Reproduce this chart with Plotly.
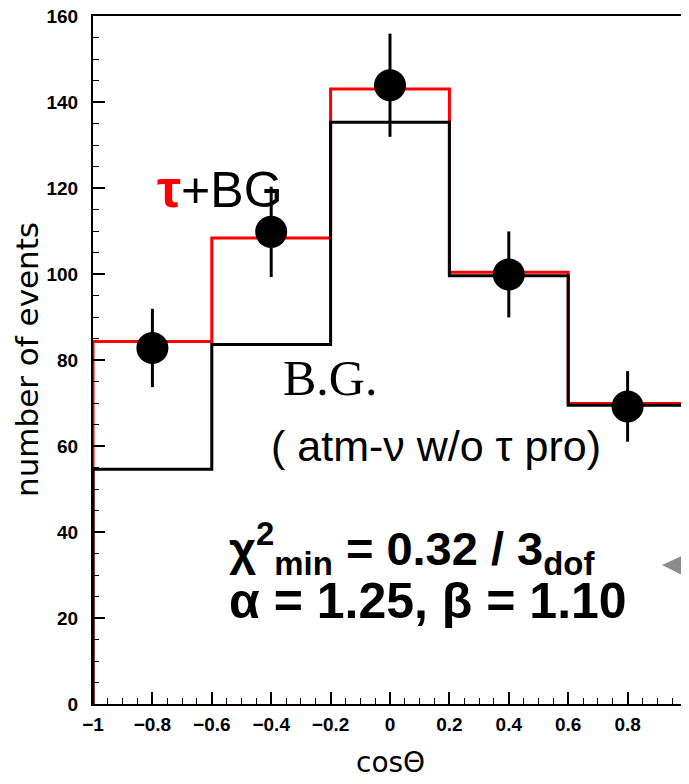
import plotly.graph_objects as go

# ---- data ----
bin_edges = [-1.0, -0.6, -0.2, 0.2, 0.6, 1.0]
tau_bg = [84.3, 108.4, 143.0, 100.4, 69.9]      # red histogram (tau + BG)
bg_only = [54.6, 83.6, 135.3, 99.6, 69.5]       # black histogram (B.G.)
data_x = [-0.8, -0.4, 0.0, 0.4, 0.8]
data_y = [82.8, 109.8, 143.9, 99.9, 69.2]
data_err = [9.1, 10.5, 12.0, 10.0, 8.2]
x_tickvals = [-1, -0.8, -0.6, -0.4, -0.2, 0, 0.2, 0.4, 0.6, 0.8, 1]
x_ticktext = ["\u22121", "\u22120.8", "\u22120.6", "\u22120.4", "\u22120.2", "0", "0.2", "0.4", "0.6", "0.8", "1"]
y_tickvals = [0, 20, 40, 60, 80, 100, 120, 140, 160]


def step_xy(edges, vals):
    xs, ys = [edges[0]], [0]
    for i, v in enumerate(vals):
        xs += [edges[i], edges[i + 1]]
        ys += [v, v]
    xs.append(edges[-1])
    ys.append(0)
    return xs, ys


# page body has an 8px margin: figure starts at (8, 8) in the window
OFF = 8
W, H = 689 - OFF, 784 - 2 * OFF
L, R, T = 93 - OFF, 2, 16 - OFF
B = H - (704 - OFF)
PW, PH = W - L - R, H - T - B


def px2paper(px, py):
    # px, py are window pixel coordinates
    return (px - OFF - L) / PW, (H - B - (py - OFF)) / PH


fig = go.Figure()
rx, ry = step_xy(bin_edges, tau_bg)
bx, by = step_xy(bin_edges, bg_only)
fig.add_trace(go.Scatter(x=rx, y=ry, mode="lines", line=dict(color="#ff0000", width=3),
                         showlegend=False, hoverinfo="skip"))
fig.add_trace(go.Scatter(x=bx, y=by, mode="lines", line=dict(color="black", width=3),
                         showlegend=False, hoverinfo="skip"))
fig.add_trace(go.Scatter(x=data_x, y=data_y, mode="markers",
                         marker=dict(color="black", size=32, symbol="circle"),
                         error_y=dict(type="data", array=data_err, color="black", thickness=3, width=0),
                         showlegend=False, cliponaxis=False))

tick_font = dict(family="Liberation Sans", size=19, color="black", weight="bold")
fig.update_xaxes(range=[-1, 1], tickvals=x_tickvals, ticktext=x_ticktext,
                 ticks="inside", ticklen=12, tickwidth=1.5, tickcolor="black",
                 showline=True, linecolor="black", linewidth=2, mirror=True, automargin=False,
                 showgrid=False, zeroline=False, tickfont=tick_font, ticklabelstandoff=2,
                 ticklabeloverflow="allow",
                 minor=dict(dtick=0.05, ticks="inside", ticklen=6, tickwidth=1, tickcolor="black"))
fig.update_yaxes(range=[0, 160], tickvals=y_tickvals,
                 ticks="inside", ticklen=12, tickwidth=1.5, tickcolor="black",
                 showline=True, linecolor="black", linewidth=2, mirror=True, automargin=False,
                 showgrid=False, zeroline=False, tickfont=tick_font, ticklabelstandoff=9,
                 ticklabeloverflow="allow",
                 minor=dict(dtick=5, ticks="inside", ticklen=6, tickwidth=1, tickcolor="black"))

ann = []
# axis titles
ax_, ay_ = px2paper(27, 360)
ann.append(dict(xref="paper", yref="paper", x=ax_, y=ay_, text="number of events", textangle=-90,
                showarrow=False, font=dict(family="DejaVu Sans", size=31, color="black"),
                xanchor="center", yanchor="middle"))
ax_, ay_ = px2paper(390, 762)
ann.append(dict(xref="paper", yref="paper", x=ax_, y=ay_, text="cos\u0398",
                showarrow=False, font=dict(family="DejaVu Sans", size=28, color="black"),
                xanchor="center", yanchor="middle"))
# labels
texts = [
    (155, 188, "<span style='color:#ff0000;font-weight:bold;font-size:54px'>\u03c4</span>+BG",
     dict(family="Liberation Sans", size=50, color="black")),
    (281, 378, "B.G.", dict(family="Liberation Serif", size=50, color="black")),
    (269, 446, "( atm-\u03bd w/o \u03c4 pro)", dict(family="Liberation Sans", size=43, color="black")),
    (227, 548, "<b>\u03c7<sup>2</sup><sub>min</sub> = 0.32 / 3<sub>dof</sub></b>",
     dict(family="Liberation Sans", size=47, color="black")),
    (227, 601, "<b>\u03b1 = 1.25, \u03b2 = 1.10</b>", dict(family="Liberation Sans", size=50, color="black")),
]
for px, py, t, f in texts:
    xx, yy = px2paper(px, py)
    ann.append(dict(xref="paper", yref="paper", x=xx, y=yy, text=t, showarrow=False, font=f,
                    xanchor="left", yanchor="middle"))

p1 = px2paper(688, 553)
p2 = px2paper(688, 578)
p3 = px2paper(662, 565)
tri = f"M {p1[0]},{p1[1]} L {p2[0]},{p2[1]} L {p3[0]},{p3[1]} Z"

fig.update_layout(width=W, height=H, margin=dict(l=L, r=R, t=T, b=B),
                  paper_bgcolor="white", plot_bgcolor="white",
                  annotations=ann,
                  shapes=[dict(type="path", path=tri, xref="paper", yref="paper",
                               fillcolor="#8c8c8c", line=dict(width=0), layer="above")])

fig.write_html("out.html")
